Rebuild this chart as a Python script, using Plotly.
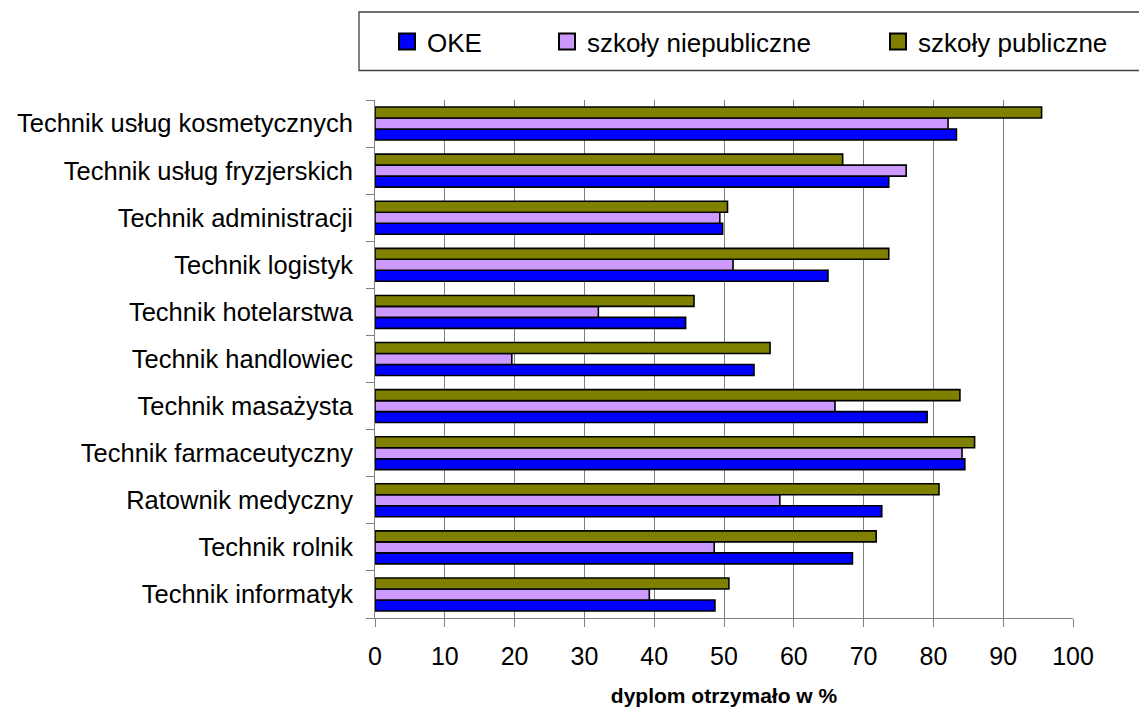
import plotly.graph_objects as go

# Categories listed top-to-bottom as in the reference
categories = [
    "Technik usług kosmetycznych",
    "Technik usług fryzjerskich",
    "Technik administracji",
    "Technik logistyk",
    "Technik hotelarstwa",
    "Technik handlowiec",
    "Technik masażysta",
    "Technik farmaceutyczny",
    "Ratownik medyczny",
    "Technik rolnik",
    "Technik informatyk",
]
oke = [83.3, 73.6, 49.8, 64.9, 44.5, 54.3, 79.1, 84.5, 72.6, 68.4, 48.7]
niepubliczne = [82.1, 76.1, 49.4, 51.3, 32.0, 19.6, 65.9, 84.1, 58.0, 48.6, 39.3]
publiczne = [95.5, 67.0, 50.5, 73.6, 45.7, 56.6, 83.8, 85.9, 80.8, 71.8, 50.7]
series_names = ["OKE", "szkoły niepubliczne", "szkoły publiczne"]
x_ticks = [0, 10, 20, 30, 40, 50, 60, 70, 80, 90, 100]

colors = ["#0000FF", "#CC99FF", "#808000"]
FONT = "Liberation Sans, Arial, sans-serif"

# plotly puts the first category at the bottom -> reverse
cats_plot = categories[::-1]
series_vals = [oke, niepubliczne, publiczne]

fig = go.Figure()
for name, vals, col in zip(series_names, series_vals, colors):
    fig.add_trace(go.Bar(
        y=cats_plot, x=vals[::-1], orientation="h", name=name,
        marker=dict(color=col, line=dict(color="black", width=1.6)),
        showlegend=False,
    ))

# legend entries (one legend per item, positioned like the reference)
legend_x = [387, 547, 878]  # approximate left px of each entry
plot_l, plot_r, plot_t, plot_b = 375, 1073, 100, 618
pw, ph = plot_r - plot_l, plot_b - plot_t
legend_keys = ["legend", "legend2", "legend3"]
for name, col, key in zip(series_names, colors, legend_keys):
    fig.add_trace(go.Scatter(
        x=[None], y=[None], mode="markers", name=name, legend=key,
        marker=dict(symbol="square", size=16, color=col,
                    line=dict(color="black", width=2)),
        showlegend=True,
    ))

leg_y = (plot_b - 41.5) / ph
legend_layouts = {}
for key, lx in zip(legend_keys, legend_x):
    legend_layouts[key] = dict(
        x=(lx - plot_l) / pw, xanchor="left", y=leg_y, yanchor="middle",
        font=dict(family=FONT, size=26, color="black"),
        bgcolor="rgba(0,0,0,0)", borderwidth=0, itemsizing="trace",
    )

fig.update_layout(
    width=1139, height=707,
    margin=dict(l=plot_l, r=1139 - plot_r, t=plot_t, b=707 - plot_b, pad=0,
                autoexpand=False),
    paper_bgcolor="white", plot_bgcolor="white",
    barmode="group", bargap=0.30, bargroupgap=0,
    font=dict(family=FONT, color="black"),
    **legend_layouts,
)

fig.add_shape(
    type="rect", xref="paper", yref="paper",
    x0=(359 - plot_l) / pw, x1=(1150 - plot_l) / pw,
    y0=(plot_b - 70.5) / ph, y1=(plot_b - 12) / ph,
    line=dict(color="#404040", width=1.3), fillcolor="rgba(0,0,0,0)", layer="below",
)

fig.update_xaxes(
    range=[0, 100], tickvals=x_ticks, ticktext=[str(v) for v in x_ticks],
    showgrid=True, gridcolor="#808080", gridwidth=1,
    zeroline=False, showline=True, linecolor="#808080", linewidth=1,
    ticks="outside", ticklen=8, tickcolor="#808080", tickwidth=1,
    tickfont=dict(family=FONT, size=25, color="black"),
    ticklabelstandoff=8, automargin=True,
    title=dict(text="<b>dyplom otrzymało w %</b>",
               font=dict(family=FONT, size=21, color="black"), standoff=23),
    fixedrange=True,
)
fig.update_yaxes(
    type="category", categoryorder="array", categoryarray=cats_plot,
    showgrid=False, zeroline=False, showline=True, linecolor="#808080", linewidth=1,
    ticks="outside", tickson="boundaries", ticklen=8, tickcolor="#808080",
    tickfont=dict(family=FONT, size=25.5, color="black"),
    ticklabelstandoff=16, automargin=False,
    fixedrange=True,
)

fig.write_html(
    "out.html",
    config={"displayModeBar": False},
    post_script="document.body.style.margin='0';document.body.style.padding='0';",
)
